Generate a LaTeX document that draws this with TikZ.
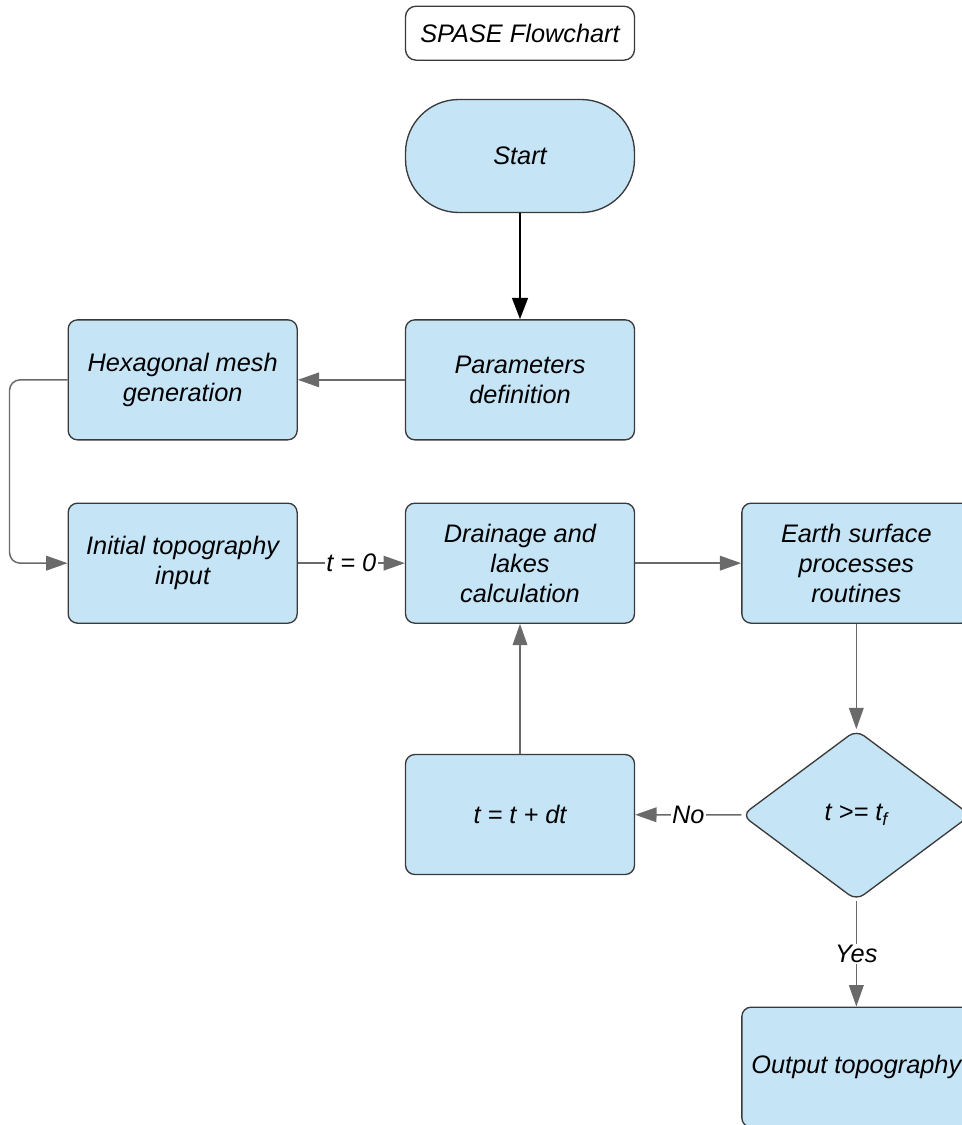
\documentclass[tikz,border=0pt]{standalone}
\usepackage{fontspec}
\setmainfont{Liberation Sans}
\usetikzlibrary{shapes, positioning, arrows.meta}
\definecolor{boxfill}{HTML}{C5E4F6}
\definecolor{boxline}{HTML}{3A3A3A}
\definecolor{linegray}{HTML}{6A6A6A}

\begin{document}
\begin{tikzpicture}[
    x=0.75pt, y=-0.75pt,
    every node/.style={font=\itshape\fontsize{19}{22.5}\selectfont, text=black},
    title/.style={rectangle, draw=boxline, line width=1pt, rounded corners=8pt,
        fill=white, minimum width=171.75pt, minimum height=40.5pt, text centered},
    start/.style={rectangle, draw=boxline, line width=1pt, rounded corners=40pt,
        fill=boxfill, minimum width=171.75pt, minimum height=84.75pt, text centered},
    process/.style={rectangle, draw=boxline, line width=1pt, rounded corners=7pt,
        fill=boxfill, minimum width=171.75pt, minimum height=90pt, align=center},
    question/.style={diamond, draw=boxline, line width=1pt, rounded corners=7pt,
        fill=boxfill, aspect=1.39, inner sep=0pt,
        minimum width=171.75pt, minimum height=128pt},
    answer/.style={rectangle, fill=white, inner sep=1pt},
    flow/.style={draw=linegray, line width=1.1pt, -{Triangle[length=16pt, width=11pt]}}
]
\useasboundingbox (0,0) rectangle (962,1125);

\node (Start00) [start] at (520,156) {Start};
\node (Title) [title, above=28.5pt of Start00] {SPASE Flowchart};
\node (Par01) [process, below=79.5pt of Start00] {Parameters\\definition};
\node (Mesh02) [process, left=80.25pt of Par01] {Hexagonal mesh\\generation};
\node (Topo03) [process, below=46.5pt of Mesh02] {Initial topography\\input};
\node (Drn04) [process, right=80.25pt of Topo03] {Drainage and\\lakes\\calculation};
\node (Esp05) [process, right=79.5pt of Drn04] {Earth surface\\processes\\routines};
\node (Q06) [question, below=79pt of Esp05] {t >= t\textsubscript{f}};
\node (Dt07) [process, below=97.5pt of Drn04] {t = t + dt};
\node (Out08) [process, below=79pt of Q06] {Output topography};

% connectors
\draw [flow, draw=black, -{Triangle[length=16pt, width=12pt]}] (Start00) -- (Par01);
\draw [flow] (Par01) -- (Mesh02);
\draw [flow, rounded corners=8pt] (Mesh02.west) -- ++(-58,0) |- (Topo03.west);
\draw [flow] (Topo03) -- node[answer] {t = 0} (Drn04);
\draw [flow] (Drn04) -- (Esp05);
\draw [flow] (Esp05) -- (Q06);
\draw [flow] (Q06) -- node[answer] {No} (Dt07);
\draw [flow] (Dt07) -- (Drn04);
\draw [flow] (Q06) -- node[answer] {Yes} (Out08);
\end{tikzpicture}
\end{document}
